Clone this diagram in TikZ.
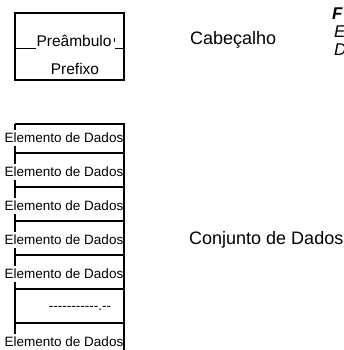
\documentclass[tikz,border=0pt]{standalone}
\usepackage{fontspec}
\newfontfamily\lsans{Liberation Sans}
\begin{document}
\begin{tikzpicture}[x=1pt,y=-1pt,
  bord/.style={line width=2.3pt},
  sepline/.style={line width=1.5pt},
  uline/.style={line width=1.1pt},
  boxtxt/.style={font=\lsans\fontsize{15.5}{18}\selectfont, inner sep=0pt, anchor=base},
  elem/.style={font=\lsans\fontsize{13.5}{15}\selectfont, fill=white, inner xsep=0pt, inner ysep=3pt, anchor=center},
  lab/.style={font=\lsans\fontsize{18}{21}\selectfont, inner sep=0pt, anchor=west},
  ital/.style={font=\lsans\itshape\fontsize{17}{20}\selectfont, inner sep=0pt, anchor=base west}]
\useasboundingbox (0,0) rectangle (343,350);
% header box
\coordinate (hTL) at (15,13);
\coordinate (hBR) at (124,80);
\draw[bord] (hTL) rectangle (hBR);
\node[boxtxt] (pre) at (74,47) {Preâmbulo};
\node[boxtxt] (pfx) at (75,75) {Prefixo};
\coordinate (ulA) at (15,48.5);
\coordinate (ulB) at (36,48.5);
\coordinate (ulC) at (115,48.5);
\coordinate (ulD) at (124,48.5);
\draw[uline] (ulA) -- (ulB);
\draw[uline] (ulC) -- (ulD);
\coordinate (tkA) at (114,38);
\coordinate (tkB) at (114,42);
\draw[line width=0.7pt] (tkA) -- (tkB);
\node[lab] (cab) at (190,40) {Cabeçalho};
% cut-off italic letters at the right edge
\node[ital] (fF) at (332,20) {\bfseries F};
\node[ital] (fE) at (334,38) {E};
\node[ital] (fD) at (334,56) {D};
% data set stack
\coordinate (sTL) at (15,124);
\coordinate (sTR) at (124,124);
\coordinate (sBL) at (15,352);
\coordinate (sBR) at (124,352);
\draw[bord] (sTL) -- (sBL);
\foreach \k in {0,...,5}{
  \draw[sepline] (15,153+34*\k) -- (124,153+34*\k);
}
\node[elem] (e1) at (64,138) {Elemento de Dados};
\node[elem] (e2) at (64,172) {Elemento de Dados};
\node[elem] (e3) at (64,206) {Elemento de Dados};
\node[elem] (e4) at (64,240) {Elemento de Dados};
\node[elem] (e5) at (64,274) {Elemento de Dados};
\node[font=\lsans\fontsize{13.5}{15}\selectfont, inner sep=0pt] (dots) at (80,308) {\mbox{-}\mbox{-}\mbox{-}\mbox{-}\mbox{-}\mbox{-}\mbox{-}\mbox{-}\mbox{-}\mbox{-}\mbox{-}.\mbox{-}\mbox{-}};
\node[elem] (e7) at (64,342) {Elemento de Dados};
\draw[bord] (sTL) -- (sTR) -- (sBR);
\node[lab] (conj) at (189,240) {Conjunto de Dados};
\end{tikzpicture}
\end{document}
